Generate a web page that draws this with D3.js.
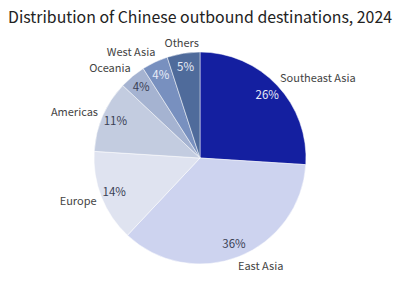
<!DOCTYPE html>
<html>
<head>
<meta charset="utf-8">
<script src="https://cdn.jsdelivr.net/npm/d3@7"></script>
<style>
  body { margin: 0; background: #fff; }
  svg { display: block; }
</style>
</head>
<body>
<svg width="400" height="283"></svg>
<script>
// destinations, clockwise from 12 o'clock
const regions = ['Southeast Asia', 'East Asia', 'Europe', 'Americas', 'Oceania', 'West Asia', 'Others'];
const shares = [26, 36, 14, 11, 4, 4, 5];
const colors = ['#141fa0', '#cdd3ef', '#dfe3f0', '#c3cce0', '#a5b3d1', '#7890bf', '#4f6b9b'];
const whiteText = ['Southeast Asia', 'West Asia', 'Others'];

const svg = d3.select('svg');
const cx = 200, cy = 158, r = 106;

const title = svg.append('text')
  .attr('x', 200)
  .attr('y', 23)
  .attr('text-anchor', 'middle')
  .style('font-family', '"Noto Sans CJK SC", sans-serif')
  .style('font-size', '18px')
  .attr('fill', '#222')
  .text('Distribution of Chinese outbound destinations, 2024');

// squeeze title into the same span as the reference
const tw = title.node().getComputedTextLength();
if (tw > 384) {
  title.style('font-size', (18 * 384 / tw).toFixed(2) + 'px');
}

const data = regions.map((name, i) => ({ name: name, value: shares[i], color: colors[i] }));

const pie = d3.pie().sort(null).value(d => d.value);
const arcs = pie(data);

const arc = d3.arc().innerRadius(0).outerRadius(r);
const inLabel = d3.arc().innerRadius(r * 0.87).outerRadius(r * 0.87);
const outLabel = d3.arc().innerRadius(r * 1.1).outerRadius(r * 1.1);

const g = svg.append('g').attr('transform', `translate(${cx},${cy})`);

g.selectAll('path')
  .data(arcs)
  .join('path')
  .attr('d', arc)
  .attr('fill', d => d.data.color)
  .attr('stroke', '#fff')
  .attr('stroke-width', 0.5);

// percent labels inside the slices
g.selectAll('text.pct')
  .data(arcs)
  .join('text')
  .attr('class', 'pct')
  .attr('transform', d => `translate(${inLabel.centroid(d)})`)
  .attr('text-anchor', 'middle')
  .attr('dy', '0.35em')
  .style('font-family', '"Noto Sans CJK SC", sans-serif')
  .style('font-size', '11.5px')
  .attr('fill', d => whiteText.includes(d.data.name) ? '#e8ecf8' : '#3a3f55')
  .text(d => d.data.value + '%');

function side(d) {
  const s = Math.sin((d.startAngle + d.endAngle) / 2);
  if (Math.abs(s) < 0.3) return 0;
  return s > 0 ? 1 : -1;
}

// category labels outside
g.selectAll('text.name')
  .data(arcs)
  .join('text')
  .attr('class', 'name')
  .attr('transform', d => {
    const [x, y] = outLabel.centroid(d);
    return `translate(${x - side(d) * 5},${y})`;
  })
  .attr('text-anchor', d => ['end', 'middle', 'start'][side(d) + 1])
  .attr('dy', '0.35em')
  .style('font-family', '"Noto Sans CJK SC", sans-serif')
  .style('font-size', '11px')
  .attr('fill', '#444')
  .text(d => d.data.name);
</script>
</body>
</html>
